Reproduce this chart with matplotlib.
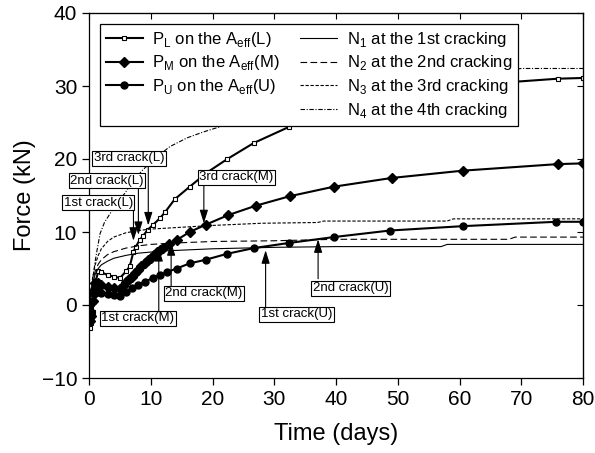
import matplotlib
matplotlib.use("Agg")
import matplotlib.pyplot as plt
from matplotlib.lines import Line2D

plt.rcParams['font.family'] = ['Liberation Sans', 'DejaVu Sans']
plt.rcParams['mathtext.fontset'] = 'custom'
plt.rcParams['mathtext.rm'] = 'Liberation Sans'

# ---- data ----
t_L = [0, 0.2, 0.4, 0.6, 0.8, 1.0, 1.5, 2, 3, 4, 5, 6, 6.6, 7.2, 7.6, 8.2, 8.7,
       9.5, 10.4, 11.5, 12.3, 13.9, 16.3, 19.2, 22.4, 26.7, 32.4, 40, 48, 57, 66, 75.9, 80]
F_L = [0, -3.2, -2.5, -1.0, 1.5, 3.0, 4.6, 4.5, 4.1, 3.9, 3.7, 4.6, 5.3, 7.3, 8.0, 8.9, 9.4,
       10.3, 11.0, 11.9, 12.7, 14.5, 16.2, 18.2, 20.0, 22.2, 24.4, 26.6, 28.3, 29.6, 30.4, 31.0, 31.1]

t_M = [0, 0.2, 0.4, 0.6, 0.8, 1, 1.5, 2, 3, 4, 5, 5.5, 6, 6.5, 7, 7.5, 8, 8.5, 9, 9.5,
       10, 10.5, 11, 11.5, 12, 13, 14.2, 16.3, 18.9, 22.5, 27, 32.5, 39.6, 49, 60.5, 75.9, 80]
F_M = [0, -2.2, -1.5, 0.5, 2.0, 3.0, 3.0, 2.8, 2.5, 2.3, 2.2, 2.6, 3.1, 3.5, 3.9, 4.4, 4.8, 5.3, 5.7, 6.1,
       6.5, 6.9, 7.2, 7.5, 7.8, 8.3, 8.9, 10.0, 11.0, 12.3, 13.6, 14.9, 16.2, 17.4, 18.4, 19.3, 19.4]

t_U = [0, 0.2, 0.4, 0.6, 0.8, 1, 1.5, 2, 3, 4, 5, 6, 7, 8, 9, 10.4, 11.5, 12.6, 14.2,
       16.3, 18.9, 22.3, 26.7, 32.4, 39.6, 48.7, 60.5, 75.7, 80]
F_U = [0, -1.8, -1.0, 0.5, 1.5, 2.0, 1.8, 1.6, 1.5, 1.4, 1.3, 1.8, 2.3, 2.8, 3.2, 3.7, 4.1, 4.5, 5.0,
       5.7, 6.2, 7.0, 7.8, 8.5, 9.3, 10.2, 10.8, 11.4, 11.4]

t_N1 = [0, 0.3, 0.6, 1, 1.5, 2, 3, 4, 6, 8, 12, 20, 30, 40, 57, 58, 80]
F_N1 = [0, 1.5, 3.0, 4.2, 5.0, 5.5, 6.0, 6.4, 6.8, 7.1, 7.4, 7.7, 7.9, 8.0, 8.0, 8.3, 8.3]

t_N2 = [0, 0.3, 0.6, 1, 1.5, 2, 3, 4, 6, 8, 10, 14, 20, 30, 40, 68, 69, 80]
F_N2 = [0, 1.5, 3.2, 4.6, 5.6, 6.2, 6.9, 7.3, 7.8, 8.1, 8.3, 8.5, 8.7, 8.8, 9.0, 9.0, 9.3, 9.3]

t_N3 = [0, 0.3, 0.6, 1, 1.5, 2, 3, 4, 6, 8, 10, 14, 20, 28, 37, 38, 58, 59, 80]
F_N3 = [0, 1.8, 3.8, 5.5, 6.8, 7.7, 8.7, 9.3, 9.9, 10.2, 10.4, 10.6, 10.9, 11.2, 11.3, 11.5, 11.5, 11.8, 11.8]

t_N4 = [0, 0.3, 0.6, 1, 1.3, 1.8, 2.5, 3.4, 4.5, 5.8, 7, 8.7, 11, 13.1, 15.9, 18.5, 22.3,
        30, 40, 50, 60, 70, 80]
F_N4 = [0, 1.5, 3.5, 6.0, 7.5, 9.8, 11.3, 12.5, 14.0, 15.3, 16.8, 18.5, 20.3, 21.7, 22.9, 23.7, 24.7,
        26.5, 28.5, 30.0, 31.3, 32.4, 32.4]

# crack annotations: label, text centre (t, F), arrow x, arrow start F, arrow tip F
crack_labels = ['3rd crack(L)', '2nd crack(L)', '1st crack(L)', '3rd crack(M)',
                '2nd crack(M)', '1st crack(M)', '1st crack(U)', '2nd crack(U)']
crack_text_t = [6.5, 2.9, 1.5, 23.9, 18.6, 7.9, 33.6, 42.4]
crack_text_F = [20.1, 17.0, 14.0, 17.5, 1.6, -1.8, -1.3, 2.3]
crack_arrow_t = [9.6, 8.0, 7.2, 18.6, 13.3, 11.3, 28.6, 37.1]
crack_arrow_F0 = [19.1, 16.0, 13.1, 16.7, 2.5, -0.8, -0.3, 3.6]
crack_arrow_F1 = [10.9, 9.6, 8.8, 11.2, 8.6, 7.8, 7.5, 9.0]

fig = plt.figure(figsize=(5.95, 4.53), dpi=100)
ax = fig.add_axes([89/595, 1-378/453, 494/595, 365/453])

lw_p = 1.5
hL, = ax.plot(t_L, F_L, color='black', lw=lw_p, marker='s', ms=3.5, mfc='white', mec='black', mew=0.8)
hM, = ax.plot(t_M, F_M, color='black', lw=lw_p, marker='D', ms=5.5)
hU, = ax.plot(t_U, F_U, color='black', lw=lw_p, marker='o', ms=5)
h1, = ax.plot(t_N1, F_N1, color='black', lw=0.8, ls='-')
h2, = ax.plot(t_N2, F_N2, color='black', lw=0.8, ls=(0, (6, 3)))
h3, = ax.plot(t_N3, F_N3, color='black', lw=0.8, ls=(0, (3, 1.5)))
h4, = ax.plot(t_N4, F_N4, color='black', lw=0.8, ls=(0, (4, 1.5, 1, 1.5)))

for lab, tx, ty, ax_t, f0, f1 in zip(crack_labels, crack_text_t, crack_text_F,
                                     crack_arrow_t, crack_arrow_F0, crack_arrow_F1):
    ax.annotate('', xy=(ax_t, f1), xytext=(ax_t, f0),
                arrowprops=dict(arrowstyle='-|>,head_length=0.8,head_width=0.25', color='black', lw=0.8,
                                shrinkA=0, shrinkB=0), zorder=5)
    ax.text(tx, ty, lab, ha='center', va='center', fontsize=9.5, zorder=6,
            bbox=dict(boxstyle='square,pad=0.12', fc='white', ec='black', lw=0.8))

blank = Line2D([], [], color='none')
handles = [hL, hM, hU, blank, h1, h2, h3, h4]
labels = [r'P$_\mathregular{L}$ on the A$_\mathregular{eff}$(L)',
          r'P$_\mathregular{M}$ on the A$_\mathregular{eff}$(M)',
          r'P$_\mathregular{U}$ on the A$_\mathregular{eff}$(U)',
          '',
          r'N$_\mathregular{1}$ at the 1st cracking',
          r'N$_\mathregular{2}$ at the 2nd cracking',
          r'N$_\mathregular{3}$ at the 3rd cracking',
          r'N$_\mathregular{4}$ at the 4th cracking']
leg = ax.legend(handles, labels, ncol=2, loc='upper left',
                bbox_to_anchor=((100-89)/494, (378-24)/365), borderaxespad=0,
                fontsize=12, frameon=True, fancybox=False, edgecolor='black',
                framealpha=1, handlelength=2.2, handletextpad=0.6, columnspacing=1.2,
                labelspacing=0.28, borderpad=0.35)
leg.get_frame().set_linewidth(0.9)
leg.set_zorder(10)

ax.set_xlim(0, 80)
ax.set_ylim(-10, 40)
ax.set_xticks(range(0, 81, 10))
ax.set_yticks(range(-10, 41, 10))
ax.tick_params(axis='both', labelsize=15, direction='out', length=5, width=0.9)
ax.tick_params(top=False, right=False)
ax2x = ax.secondary_xaxis('top')
ax2x.set_xticks(range(0, 81, 10))
ax2x.tick_params(direction='in', length=4, labeltop=False)
ax2y = ax.secondary_yaxis('right')
ax2y.set_yticks(range(-10, 41, 10))
ax2y.tick_params(direction='in', length=4, labelright=False)
for s in ax.spines.values():
    s.set_linewidth(0.9)
ax.set_xlabel('Time (days)', fontsize=17, labelpad=10)
ax.set_ylabel('Force (kN)', fontsize=17, labelpad=4)

fig.savefig('out.png', dpi=100)
